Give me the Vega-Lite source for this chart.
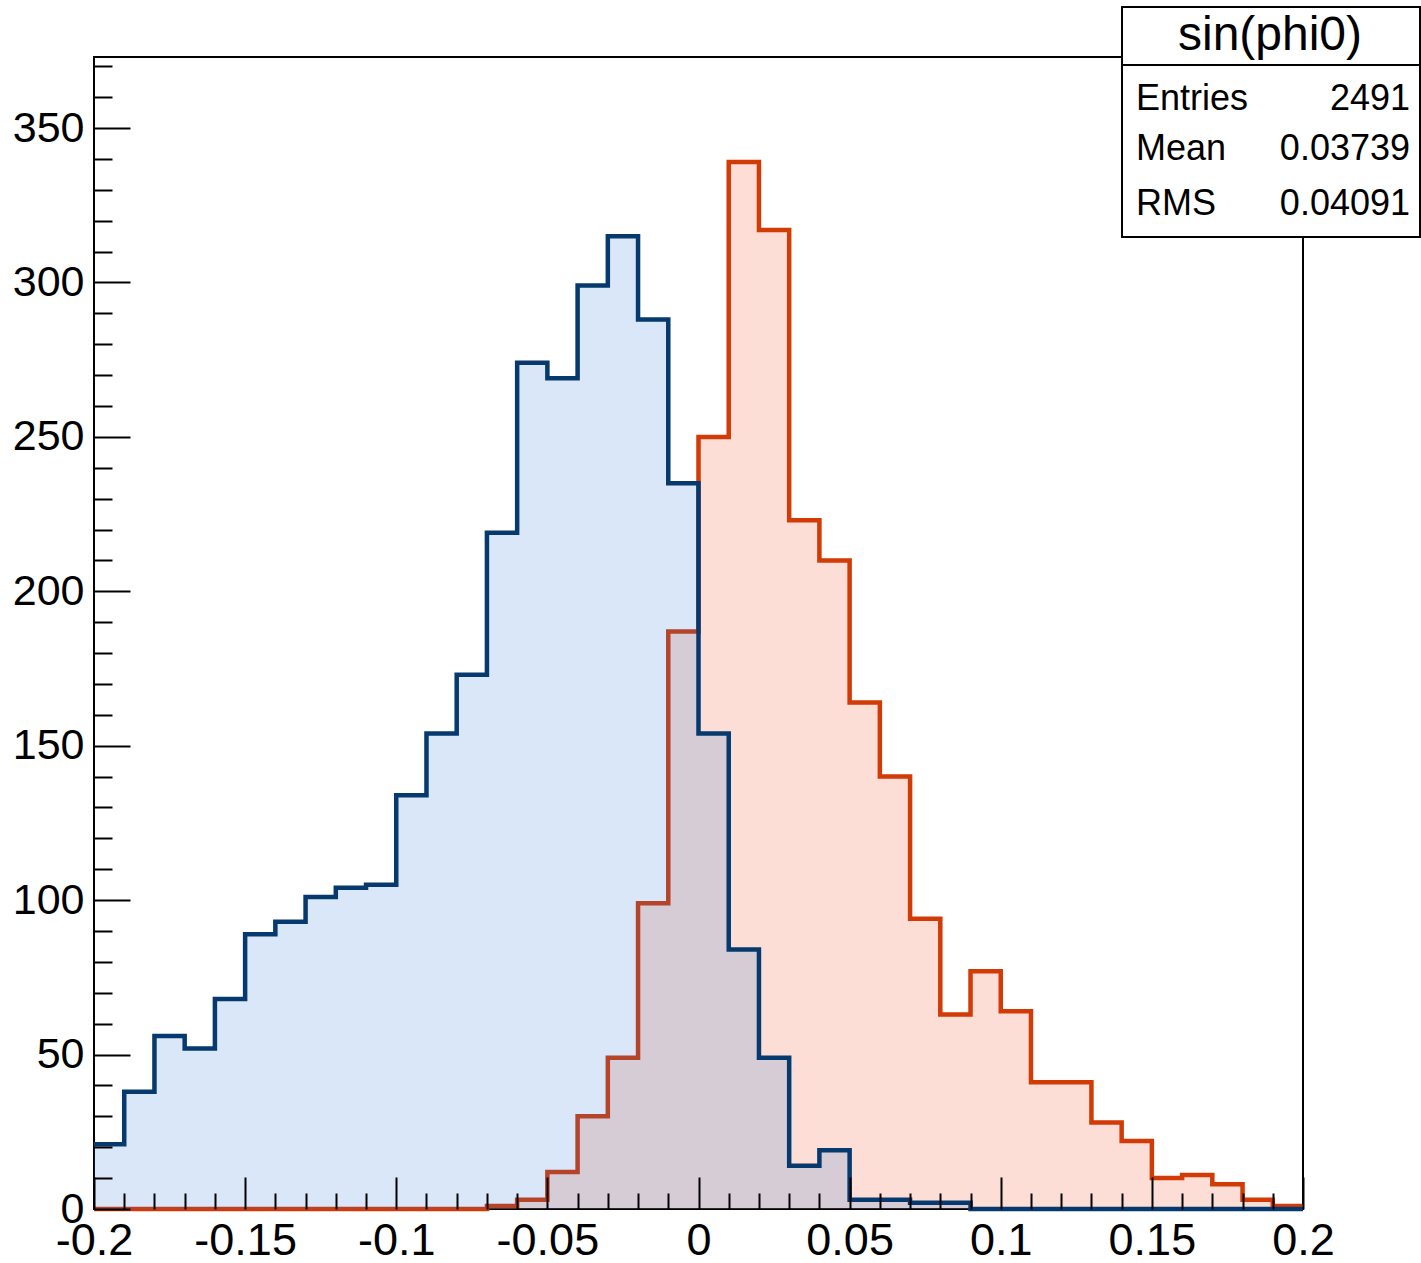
{
  "$schema": "https://vega.github.io/schema/vega-lite/v6.json",
  "autosize": "none",
  "width": 1209,
  "height": 1152,
  "padding": {"left": 94, "top": 57, "right": 118, "bottom": 54},
  "background": "white",
  "config": {
    "view": {"stroke": "black", "strokeWidth": 2},
    "font": "Liberation Sans",
    "text": {"font": "Liberation Sans", "color": "black"}
  },
  "datasets": {
    "hist": [
      {"series": "red", "bin_low": -0.2, "count": 0},
      {"series": "red", "bin_low": -0.19, "count": 0},
      {"series": "red", "bin_low": -0.18, "count": 0},
      {"series": "red", "bin_low": -0.17, "count": 0},
      {"series": "red", "bin_low": -0.16, "count": 0},
      {"series": "red", "bin_low": -0.15, "count": 0},
      {"series": "red", "bin_low": -0.14, "count": 0},
      {"series": "red", "bin_low": -0.13, "count": 0},
      {"series": "red", "bin_low": -0.12, "count": 0},
      {"series": "red", "bin_low": -0.11, "count": 0},
      {"series": "red", "bin_low": -0.1, "count": 0},
      {"series": "red", "bin_low": -0.09, "count": 0},
      {"series": "red", "bin_low": -0.08, "count": 0},
      {"series": "red", "bin_low": -0.07, "count": 1},
      {"series": "red", "bin_low": -0.06, "count": 3},
      {"series": "red", "bin_low": -0.05, "count": 12},
      {"series": "red", "bin_low": -0.04, "count": 30},
      {"series": "red", "bin_low": -0.03, "count": 49},
      {"series": "red", "bin_low": -0.02, "count": 99},
      {"series": "red", "bin_low": -0.01, "count": 187},
      {"series": "red", "bin_low": 0, "count": 250},
      {"series": "red", "bin_low": 0.01, "count": 339},
      {"series": "red", "bin_low": 0.02, "count": 317},
      {"series": "red", "bin_low": 0.03, "count": 223},
      {"series": "red", "bin_low": 0.04, "count": 210},
      {"series": "red", "bin_low": 0.05, "count": 164},
      {"series": "red", "bin_low": 0.06, "count": 140},
      {"series": "red", "bin_low": 0.07, "count": 94},
      {"series": "red", "bin_low": 0.08, "count": 63},
      {"series": "red", "bin_low": 0.09, "count": 77},
      {"series": "red", "bin_low": 0.1, "count": 64},
      {"series": "red", "bin_low": 0.11, "count": 41},
      {"series": "red", "bin_low": 0.12, "count": 41},
      {"series": "red", "bin_low": 0.13, "count": 28},
      {"series": "red", "bin_low": 0.14, "count": 22},
      {"series": "red", "bin_low": 0.15, "count": 10},
      {"series": "red", "bin_low": 0.16, "count": 11},
      {"series": "red", "bin_low": 0.17, "count": 8},
      {"series": "red", "bin_low": 0.18, "count": 3},
      {"series": "red", "bin_low": 0.19, "count": 1},
      {"series": "red", "bin_low": 0.2, "count": 1},
      {"series": "blue", "bin_low": -0.2, "count": 21},
      {"series": "blue", "bin_low": -0.19, "count": 38},
      {"series": "blue", "bin_low": -0.18, "count": 56},
      {"series": "blue", "bin_low": -0.17, "count": 52},
      {"series": "blue", "bin_low": -0.16, "count": 68},
      {"series": "blue", "bin_low": -0.15, "count": 89},
      {"series": "blue", "bin_low": -0.14, "count": 93},
      {"series": "blue", "bin_low": -0.13, "count": 101},
      {"series": "blue", "bin_low": -0.12, "count": 104},
      {"series": "blue", "bin_low": -0.11, "count": 105},
      {"series": "blue", "bin_low": -0.1, "count": 134},
      {"series": "blue", "bin_low": -0.09, "count": 154},
      {"series": "blue", "bin_low": -0.08, "count": 173},
      {"series": "blue", "bin_low": -0.07, "count": 219},
      {"series": "blue", "bin_low": -0.06, "count": 274},
      {"series": "blue", "bin_low": -0.05, "count": 269},
      {"series": "blue", "bin_low": -0.04, "count": 299},
      {"series": "blue", "bin_low": -0.03, "count": 315},
      {"series": "blue", "bin_low": -0.02, "count": 288},
      {"series": "blue", "bin_low": -0.01, "count": 235},
      {"series": "blue", "bin_low": 0, "count": 154},
      {"series": "blue", "bin_low": 0.01, "count": 84},
      {"series": "blue", "bin_low": 0.02, "count": 49},
      {"series": "blue", "bin_low": 0.03, "count": 14},
      {"series": "blue", "bin_low": 0.04, "count": 19},
      {"series": "blue", "bin_low": 0.05, "count": 3},
      {"series": "blue", "bin_low": 0.06, "count": 3},
      {"series": "blue", "bin_low": 0.07, "count": 2},
      {"series": "blue", "bin_low": 0.08, "count": 2},
      {"series": "blue", "bin_low": 0.09, "count": 0},
      {"series": "blue", "bin_low": 0.1, "count": 0},
      {"series": "blue", "bin_low": 0.11, "count": 0},
      {"series": "blue", "bin_low": 0.12, "count": 0},
      {"series": "blue", "bin_low": 0.13, "count": 0},
      {"series": "blue", "bin_low": 0.14, "count": 0},
      {"series": "blue", "bin_low": 0.15, "count": 0},
      {"series": "blue", "bin_low": 0.16, "count": 0},
      {"series": "blue", "bin_low": 0.17, "count": 0},
      {"series": "blue", "bin_low": 0.18, "count": 0},
      {"series": "blue", "bin_low": 0.19, "count": 0},
      {"series": "blue", "bin_low": 0.2, "count": 0}
    ]
  },
  "resolve": {"axis": {"x": "independent", "y": "independent"}},
  "layer": [
    {
      "data": {"name": "hist"},
      "transform": [{"filter": "datum.series === 'red'"}],
      "mark": {"type": "area", "interpolate": "step-after", "fill": "#f05a30", "fillOpacity": 0.2},
      "encoding": {
        "x": {"field": "bin_low", "type": "quantitative",
          "scale": {"domain": [-0.2, 0.2], "nice": false, "zero": false},
          "axis": {"orient": "bottom", "values": [-0.2, -0.15, -0.1, -0.05, 0, 0.05, 0.1, 0.15, 0.2],
            "labelExpr": "'' + datum.value", "tickSize": -32, "tickWidth": 2, "tickColor": "black",
            "domain": false, "grid": false, "title": null, "labelFont": "Liberation Sans", "labelFontSize": 45,
            "labelColor": "black", "labelPadding": 41, "labelFlush": false, "labelOverlap": false, "labelBound": false, "zindex": 2}},
        "y": {"field": "count", "type": "quantitative",
          "scale": {"domain": [0, 373], "nice": false},
          "axis": {"orient": "left", "values": [0, 50, 100, 150, 200, 250, 300, 350],
            "labelExpr": "'' + datum.value", "tickSize": -36, "tickWidth": 2, "tickColor": "black",
            "domain": false, "grid": false, "title": null, "labelFont": "Liberation Sans", "labelFontSize": 43,
            "labelColor": "black", "labelPadding": 46, "labelFlush": false, "labelOverlap": false, "labelBound": false, "zindex": 2}}
      }
    },
    {
      "data": {"name": "hist"},
      "transform": [{"filter": "datum.series === 'red'"}],
      "mark": {"type": "line", "interpolate": "step-after", "stroke": "#d23a06", "strokeWidth": 4.5},
      "encoding": {
        "x": {"field": "bin_low", "type": "quantitative",
          "scale": {"domain": [-0.2, 0.2], "nice": false, "zero": false},
          "axis": {"orient": "bottom", "values": [-0.19, -0.18, -0.17, -0.16, -0.14, -0.13, -0.12, -0.11, -0.09, -0.08, -0.07, -0.06, -0.04, -0.03, -0.02, -0.01, 0.01, 0.02, 0.03, 0.04, 0.06, 0.07, 0.08, 0.09, 0.11, 0.12, 0.13, 0.14, 0.16, 0.17, 0.18, 0.19],
            "labels": false, "tickSize": -16, "tickWidth": 2, "tickColor": "black",
            "domain": false, "grid": false, "title": null, "zindex": 2}},
        "y": {"field": "count", "type": "quantitative",
          "scale": {"domain": [0, 373], "nice": false},
          "axis": {"orient": "left", "values": [10, 20, 30, 40, 60, 70, 80, 90, 110, 120, 130, 140, 160, 170, 180, 190, 210, 220, 230, 240, 260, 270, 280, 290, 310, 320, 330, 340, 360, 370],
            "labels": false, "tickSize": -18, "tickWidth": 2, "tickColor": "black",
            "domain": false, "grid": false, "title": null, "zindex": 2}}
      }
    },
    {
      "data": {"name": "hist"},
      "transform": [{"filter": "datum.series === 'blue'"}],
      "mark": {"type": "area", "interpolate": "step-after", "fill": "#2a78d8", "fillOpacity": 0.18},
      "encoding": {
        "x": {"field": "bin_low", "type": "quantitative", "scale": {"domain": [-0.2, 0.2], "nice": false, "zero": false}, "axis": null},
        "y": {"field": "count", "type": "quantitative", "scale": {"domain": [0, 373], "nice": false}, "axis": null}
      }
    },
    {
      "data": {"name": "hist"},
      "transform": [{"filter": "datum.series === 'blue'"}],
      "mark": {"type": "line", "interpolate": "step-after", "stroke": "#063a6e", "strokeWidth": 4.5},
      "encoding": {
        "x": {"field": "bin_low", "type": "quantitative", "scale": {"domain": [-0.2, 0.2], "nice": false, "zero": false}, "axis": null},
        "y": {"field": "count", "type": "quantitative", "scale": {"domain": [0, 373], "nice": false}, "axis": null}
      }
    },
    {
      "data": {"values": [{"box": "stats"}]},
      "mark": {"type": "rect", "fill": "white", "stroke": "black", "strokeWidth": 2, "clip": false},
      "encoding": {
        "x": {"datum": 0.14012, "type": "quantitative", "axis": null},
        "x2": {"datum": 0.23871},
        "y": {"datum": 389.2, "type": "quantitative", "axis": null},
        "y2": {"datum": 314.7}
      }
    },
    {
      "data": {"values": [{"box": "stats"}]},
      "mark": {"type": "rule", "stroke": "black", "strokeWidth": 2, "clip": false},
      "encoding": {
        "x": {"datum": 0.14012, "type": "quantitative", "axis": null},
        "x2": {"datum": 0.23871},
        "y": {"datum": 370.4, "type": "quantitative", "axis": null}
      }
    },
    {
      "data": {"values": [{"title": "sin(phi0)"}]},
      "mark": {"type": "text", "align": "center", "baseline": "alphabetic", "fontSize": 48, "font": "Liberation Sans", "clip": false},
      "encoding": {
        "x": {"datum": 0.18908, "type": "quantitative", "axis": null},
        "y": {"datum": 375.3, "type": "quantitative", "axis": null},
        "text": {"field": "title"}
      }
    },
    {
      "data": {"values": [{"stat": "Entries", "value": "2491"}]},
      "mark": {"type": "text", "align": "left", "baseline": "alphabetic", "fontSize": 36, "font": "Liberation Sans", "clip": false},
      "encoding": {
        "x": {"datum": 0.14475, "type": "quantitative", "axis": null},
        "y": {"datum": 355.8, "type": "quantitative", "axis": null},
        "text": {"field": "stat"}
      }
    },
    {
      "data": {"values": [{"stat": "Entries", "value": "2491"}]},
      "mark": {"type": "text", "align": "right", "baseline": "alphabetic", "fontSize": 36, "font": "Liberation Sans", "clip": false},
      "encoding": {
        "x": {"datum": 0.2354, "type": "quantitative", "axis": null},
        "y": {"datum": 355.8, "type": "quantitative", "axis": null},
        "text": {"field": "value"}
      }
    },
    {
      "data": {"values": [{"stat": "Mean", "value": "0.03739"}]},
      "mark": {"type": "text", "align": "left", "baseline": "alphabetic", "fontSize": 36, "font": "Liberation Sans", "clip": false},
      "encoding": {
        "x": {"datum": 0.14475, "type": "quantitative", "axis": null},
        "y": {"datum": 339.6, "type": "quantitative", "axis": null},
        "text": {"field": "stat"}
      }
    },
    {
      "data": {"values": [{"stat": "Mean", "value": "0.03739"}]},
      "mark": {"type": "text", "align": "right", "baseline": "alphabetic", "fontSize": 36, "font": "Liberation Sans", "clip": false},
      "encoding": {
        "x": {"datum": 0.2354, "type": "quantitative", "axis": null},
        "y": {"datum": 339.6, "type": "quantitative", "axis": null},
        "text": {"field": "value"}
      }
    },
    {
      "data": {"values": [{"stat": "RMS", "value": "0.04091"}]},
      "mark": {"type": "text", "align": "left", "baseline": "alphabetic", "fontSize": 36, "font": "Liberation Sans", "clip": false},
      "encoding": {
        "x": {"datum": 0.14475, "type": "quantitative", "axis": null},
        "y": {"datum": 321.8, "type": "quantitative", "axis": null},
        "text": {"field": "stat"}
      }
    },
    {
      "data": {"values": [{"stat": "RMS", "value": "0.04091"}]},
      "mark": {"type": "text", "align": "right", "baseline": "alphabetic", "fontSize": 36, "font": "Liberation Sans", "clip": false},
      "encoding": {
        "x": {"datum": 0.2354, "type": "quantitative", "axis": null},
        "y": {"datum": 321.8, "type": "quantitative", "axis": null},
        "text": {"field": "value"}
      }
    }
  ]
}
